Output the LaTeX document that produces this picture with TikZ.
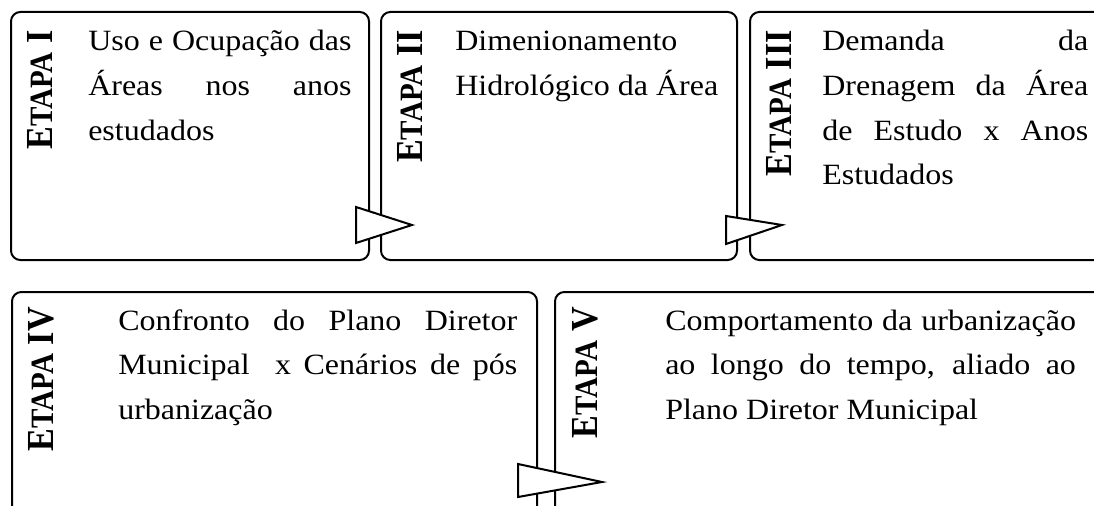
\documentclass[tikz,border=0pt]{standalone}
\usepackage{fontspec}
\setmainfont{Liberation Serif}
\usepackage{tikz}

\hyphenpenalty=10000
\exhyphenpenalty=10000

\newcommand{\etapa}[1]{\scalebox{1}[1.12]{\textbf{E{\fontsize{21.8pt}{22pt}\selectfont TAPA} #1}}}
\newcommand{\texto}[2]{\scalebox{1}[0.92]{\parbox[t]{#1}{\fontsize{24pt}{36.3pt}\selectfont #2}}}

\tikzset{
  etapabox/.style={draw, line width=1.5pt, rounded corners=7pt, outer sep=0pt, inner sep=0pt, anchor=north west},
  etapalabel/.style={rotate=90, anchor=base east, inner sep=0pt, font=\fontsize{25.6pt}{28pt}\selectfont},
  etapatext/.style={anchor=base west, inner sep=0pt},
  seta/.style={draw, line width=1.5pt, fill=white, line join=miter}
}

\begin{document}
\begin{tikzpicture}[x=0.75pt,y=0.75pt,yscale=-1,xscale=1]
        \clip (0,0) rectangle (1094,506);
        % caixas
        \node [etapabox, minimum width=268.5pt, minimum height=186pt] (caixa1) at (11,12) {};
        \node [etapabox, minimum width=267pt, minimum height=186pt] (caixa2) at (381,12) {};
        \node [etapabox, minimum width=270pt, minimum height=186pt] (caixa3) at (750,12) {};
        \node [etapabox, minimum width=393.75pt, minimum height=178.5pt] (caixa4) at (12,292) {};
        \node [etapabox, minimum width=416.25pt, minimum height=178.5pt] (caixa5) at (555,292) {};

        % setas
        \draw [seta] (356,207) -- (412,225) -- (356,243) -- cycle;
        \draw [seta] (726,216) -- (782,225) -- (726,244) -- cycle;
        \draw [seta] (518,464) -- (602,482) -- (518,497) -- cycle;

        % etapas
        \node [etapalabel] (etapa1) at (52,30) {\etapa{I}};
        \node [etapalabel] (etapa2) at (422,30) {\etapa{II}};
        \node [etapalabel] (etapa3) at (791,30) {\etapa{III}};
        \node [etapalabel] (etapa4) at (53,307) {\etapa{IV}};
        \node [etapalabel] (etapa5) at (597,307) {\etapa{V}};

        % textos
        \node [etapatext] (texto1) at (88,51) {\texto{197.5pt}{Uso e Ocupação das\linebreak Áreas nos anos\linebreak estudados}};
        \node [etapatext] (texto2) at (455,51) {\texto{200pt}{Dimenionamento\\ Hidrológico da Área}};
        \node [etapatext] (texto3) at (822,51) {\texto{199.5pt}{Demanda da\linebreak Drenagem da Área\linebreak de Estudo x Anos\linebreak Estudados}};
        \node [etapatext] (texto4) at (118,330) {\texto{299.25pt}{Confronto do Plano Diretor\linebreak Municipal\ \ x Cenários de pós\linebreak urbanização}};
        \node [etapatext] (texto5) at (665,330) {\texto{308pt}{Comportamento da urbanização\linebreak ao longo do tempo, aliado ao\linebreak Plano Diretor Municipal}};
\end{tikzpicture}
\end{document}
